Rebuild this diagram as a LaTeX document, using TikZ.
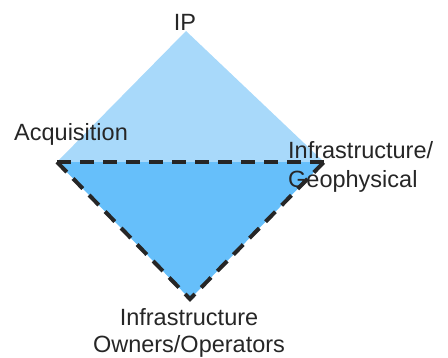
\documentclass[tikz,border=0pt]{standalone}
\usepackage{fontspec}
\setmainfont{Liberation Sans}
\definecolor{topblue}{RGB}{168,217,250}
\definecolor{lowblue}{RGB}{102,191,250}
\begin{document}
\begin{tikzpicture}[x=1pt, y=-1pt,
		corner/.style={font=\fontsize{23.5}{28}\selectfont, inner sep=0pt, text=black!85},
		edge/.style={line width=4pt, dash pattern=on 14pt off 9pt, color=black!85}]
	\useasboundingbox (0, 0) rectangle (448, 357);
	\coordinate (top) at (186, 31);
	\coordinate (left) at (57, 162);
	\coordinate (right) at (324, 162);
	\coordinate (bottom) at (190, 299);
	\fill[topblue] (left) -- (top) -- (right) -- cycle;
	\fill[lowblue] (left) -- (right) -- (bottom) -- cycle;
	\draw[edge] (left) -- (right);
	\draw[edge] (left) -- (bottom) -- (right);
	\node[corner, anchor = base] (ip) at (185, 30) {IP};
	\node[corner, anchor = base west] (acq) at (14, 140) {Acquisition};
	\node[corner, anchor = north west, align = left] (geo) at (288, 141) {Infrastructure/\\[1pt]Geophysical};
	\node[corner, anchor = north, align = center] (own) at (189, 308) {Infrastructure\\[-1pt]Owners/Operators};
\end{tikzpicture}
\end{document}
